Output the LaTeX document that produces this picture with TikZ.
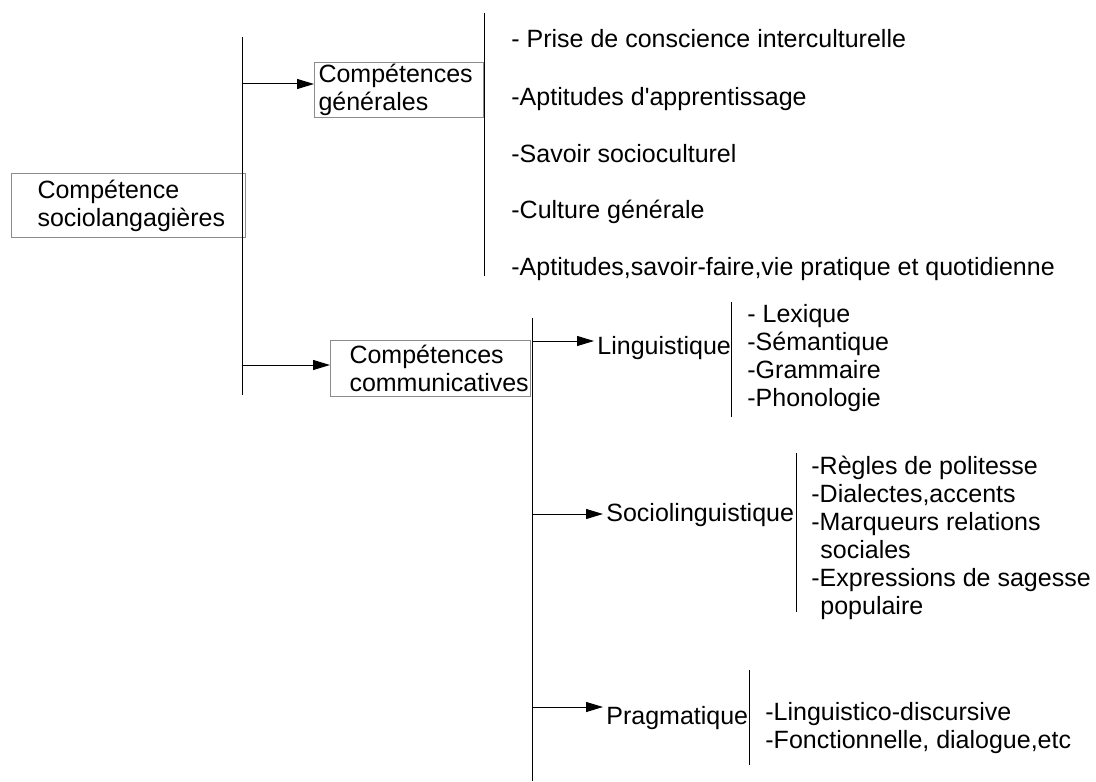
\documentclass[tikz,border=0pt]{standalone}
\usepackage{fontspec}
\setmainfont{Liberation Sans}[Ligatures=TeXOff]
\usetikzlibrary{arrows.meta,positioning}

\begin{document}
\begin{tikzpicture}[x=0.5pt,y=-0.5pt,
  every node/.style={font=\fontsize{12.5}{14}\selectfont},
  boite/.style={draw=black!45,line width=0.5pt,anchor=north west,inner sep=0pt,align=left},
  liste/.style={anchor=base west,inner sep=0pt,align=left},
  titre/.style={anchor=base west,inner xsep=1.5pt,inner ysep=0pt},
  fleche/.style={-{Triangle[length=8.5pt,width=5pt]},line width=0.5pt},
  trait/.style={line width=0.5pt}]
\useasboundingbox (0,0) rectangle (1096,781);

% boites
\node[boite,text width=117pt,minimum height=32pt] (racine) at (11,173) {\hspace*{13pt}Compétence\\\hspace*{13pt}sociolangagières};
\node[boite,text width=84.5pt,minimum height=27.5pt] (gen) at (314,62) {\hspace*{2pt}Compétences\\\hspace*{2pt}générales};
\node[boite,text width=100pt,minimum height=28pt] (com) at (330,340) {\hspace*{9.5pt}Compétences\\\hspace*{9.5pt}communicatives};

% traits verticaux
\coordinate (h1) at (242,37);
\coordinate (b1) at (242,395);
\draw[trait] (h1) -- (b1);
\coordinate (h2) at (484,13);
\coordinate (b2) at (484,276);
\draw[trait] (h2) -- (b2);
\coordinate (h3) at (532,318);
\coordinate (b3) at (532,781);
\draw[trait] (h3) -- (b3);
\coordinate (h4) at (731,302);
\coordinate (b4) at (731,417);
\draw[trait] (h4) -- (b4);
\coordinate (h5) at (796,453);
\coordinate (b5) at (796,612);
\draw[trait] (h5) -- (b5);
\coordinate (h6) at (749,670);
\coordinate (b6) at (749,765);
\draw[trait] (h6) -- (b6);

% competences generales
\node[liste] (g1) at (511,48) {- Prise de conscience interculturelle};
\node[liste] (g2) at (511,105) {-Aptitudes d'apprentissage};
\node[liste] (g3) at (511,162) {-Savoir socioculturel};
\node[liste] (g4) at (511,218) {-Culture générale};
\node[liste] (g5) at (511,275) {-Aptitudes,savoir-faire,vie pratique et quotidienne};

% competences communicatives (listes placees sur leur derniere ligne)
\node[titre] (ling) at (594,354) {Linguistique};
\node[titre] (socio) at (603,521) {Sociolinguistique};
\node[titre] (prag) at (603,724) {Pragmatique};
\node[liste] (l1) at (747,406) {- Lexique\\-Sémantique\\-Grammaire\\-Phonologie};
\node[liste] (s1) at (811,614) {-Règles de politesse\\-Dialectes,accents\\-Marqueurs relations\\\hspace*{4.5pt}sociales\\-Expressions de sagesse\\\hspace*{4.5pt}populaire};
\node[liste] (p1) at (765,748) {-Linguistico-discursive\\-Fonctionnelle, dialogue,etc};

% fleches
\coordinate (d1) at (242,84);
\draw[fleche] (d1) -- (d1 -| gen.west);
\coordinate (d2) at (242,365);
\draw[fleche] (d2) -- (d2 -| com.west);
\coordinate (d3) at (532,341);
\draw[fleche] (d3) -- (d3 -| ling.west);
\coordinate (d4) at (532,514);
\draw[fleche] (d4) -- (d4 -| socio.west);
\coordinate (d5) at (532,707);
\draw[fleche] (d5) -- (d5 -| prag.west);
\end{tikzpicture}
\end{document}
